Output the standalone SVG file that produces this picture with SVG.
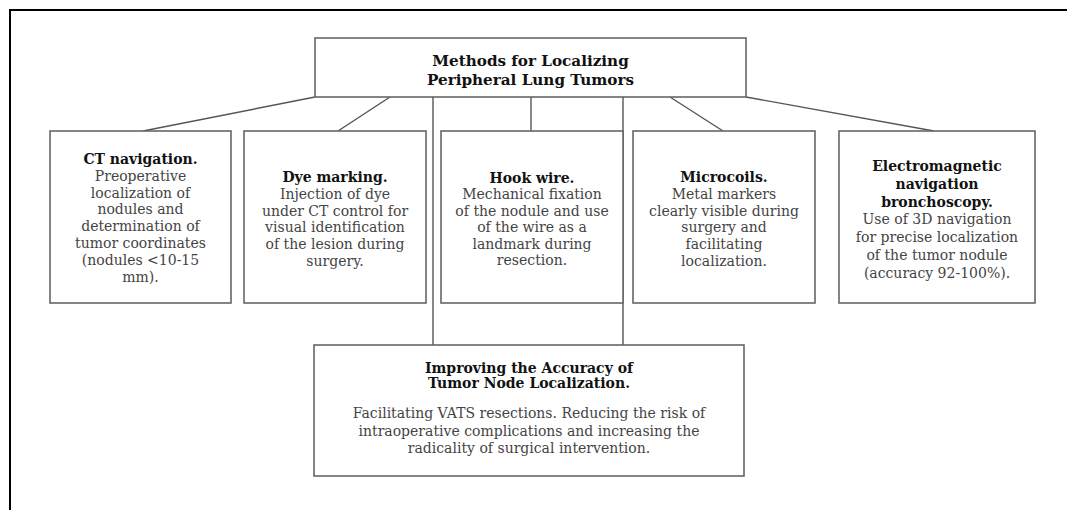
<svg xmlns="http://www.w3.org/2000/svg" width="1067" height="510" viewBox="0 0 1067 510">
<style>
.frame{fill:none;stroke:#000;stroke-width:2}
.box{fill:#fff;stroke:#666;stroke-width:1.6}
.conn{fill:none;stroke:#555;stroke-width:1.4}
text{font-family:"DejaVu Serif",serif;font-size:14px;text-anchor:middle;fill:#444}
.b{font-weight:bold;fill:#111}
.t{font-size:15.2px}
</style>
<rect width="1067" height="510" fill="#fff"/>
<path class="frame" d="M10,510 V10 H1067"/>
<g id="connectors">
<line class="conn" x1="315" y1="97" x2="143" y2="131"/>
<line class="conn" x1="390" y1="97" x2="338" y2="131"/>
<line class="conn" x1="433" y1="97" x2="433" y2="345"/>
<line class="conn" x1="531" y1="97" x2="531" y2="131"/>
<line class="conn" x1="623" y1="97" x2="623" y2="345"/>
<line class="conn" x1="670" y1="97" x2="723" y2="131"/>
<line class="conn" x1="746" y1="97" x2="934" y2="131"/>
</g>
<g id="title">
<rect class="box" x="315" y="38" width="431" height="59"/>
<text class="b t" x="530.5" y="66">Methods for Localizing</text>
<text class="b t" x="530.5" y="84.5">Peripheral Lung Tumors</text>
</g>
<g id="ct">
<rect class="box" x="50" y="131" width="181" height="172"/>
<text x="140.5" y="164"><tspan class="b">CT navigation.</tspan><tspan x="140.5" dy="16.8">Preoperative</tspan><tspan x="140.5" dy="16.8">localization of</tspan><tspan x="140.5" dy="16.8">nodules and</tspan><tspan x="140.5" dy="16.8">determination of</tspan><tspan x="140.5" dy="16.8">tumor coordinates</tspan><tspan x="140.5" dy="16.8">(nodules &lt;10-15</tspan><tspan x="140.5" dy="16.8">mm).</tspan></text>
</g>
<g id="dye">
<rect class="box" x="244" y="131" width="182" height="172"/>
<text x="335" y="182"><tspan class="b">Dye marking.</tspan><tspan x="335" dy="16.8">Injection of dye</tspan><tspan x="335" dy="16.8">under CT control for</tspan><tspan x="335" dy="16.8">visual identification</tspan><tspan x="335" dy="16.8">of the lesion during</tspan><tspan x="335" dy="16.8">surgery.</tspan></text>
</g>
<g id="hook">
<rect class="box" x="441" y="131" width="182" height="172"/>
<text x="532" y="183"><tspan class="b">Hook wire.</tspan><tspan x="532" dy="16.4">Mechanical fixation</tspan><tspan x="532" dy="16.4">of the nodule and use</tspan><tspan x="532" dy="16.4">of the wire as a</tspan><tspan x="532" dy="16.4">landmark during</tspan><tspan x="532" dy="16.4">resection.</tspan></text>
</g>
<g id="micro">
<rect class="box" x="633" y="131" width="182" height="172"/>
<text x="724" y="182"><tspan class="b">Microcoils.</tspan><tspan x="724" dy="16.8">Metal markers</tspan><tspan x="724" dy="16.8">clearly visible during</tspan><tspan x="724" dy="16.8">surgery and</tspan><tspan x="724" dy="16.8">facilitating</tspan><tspan x="724" dy="16.8">localization.</tspan></text>
</g>
<g id="enb">
<rect class="box" x="839" y="131" width="196" height="172"/>
<text x="937" y="171"><tspan class="b">Electromagnetic</tspan><tspan class="b" x="937" dy="17.8">navigation</tspan><tspan class="b" x="937" dy="17.8">bronchoscopy.</tspan><tspan x="937" dy="17.8">Use of 3D navigation</tspan><tspan x="937" dy="17.8">for precise localization</tspan><tspan x="937" dy="17.8">of the tumor nodule</tspan><tspan x="937" dy="17.8">(accuracy 92-100%).</tspan></text>
</g>
<g id="accuracy">
<rect class="box" x="314" y="345" width="430" height="131"/>
<text class="b" x="529" y="373">Improving the Accuracy of</text>
<text class="b" x="529" y="388">Tumor Node Localization.</text>
<text x="529" y="418">Facilitating VATS resections. Reducing the risk of</text>
<text x="529" y="435.5">intraoperative complications and increasing the</text>
<text x="529" y="453">radicality of surgical intervention.</text>
</g>
</svg>
